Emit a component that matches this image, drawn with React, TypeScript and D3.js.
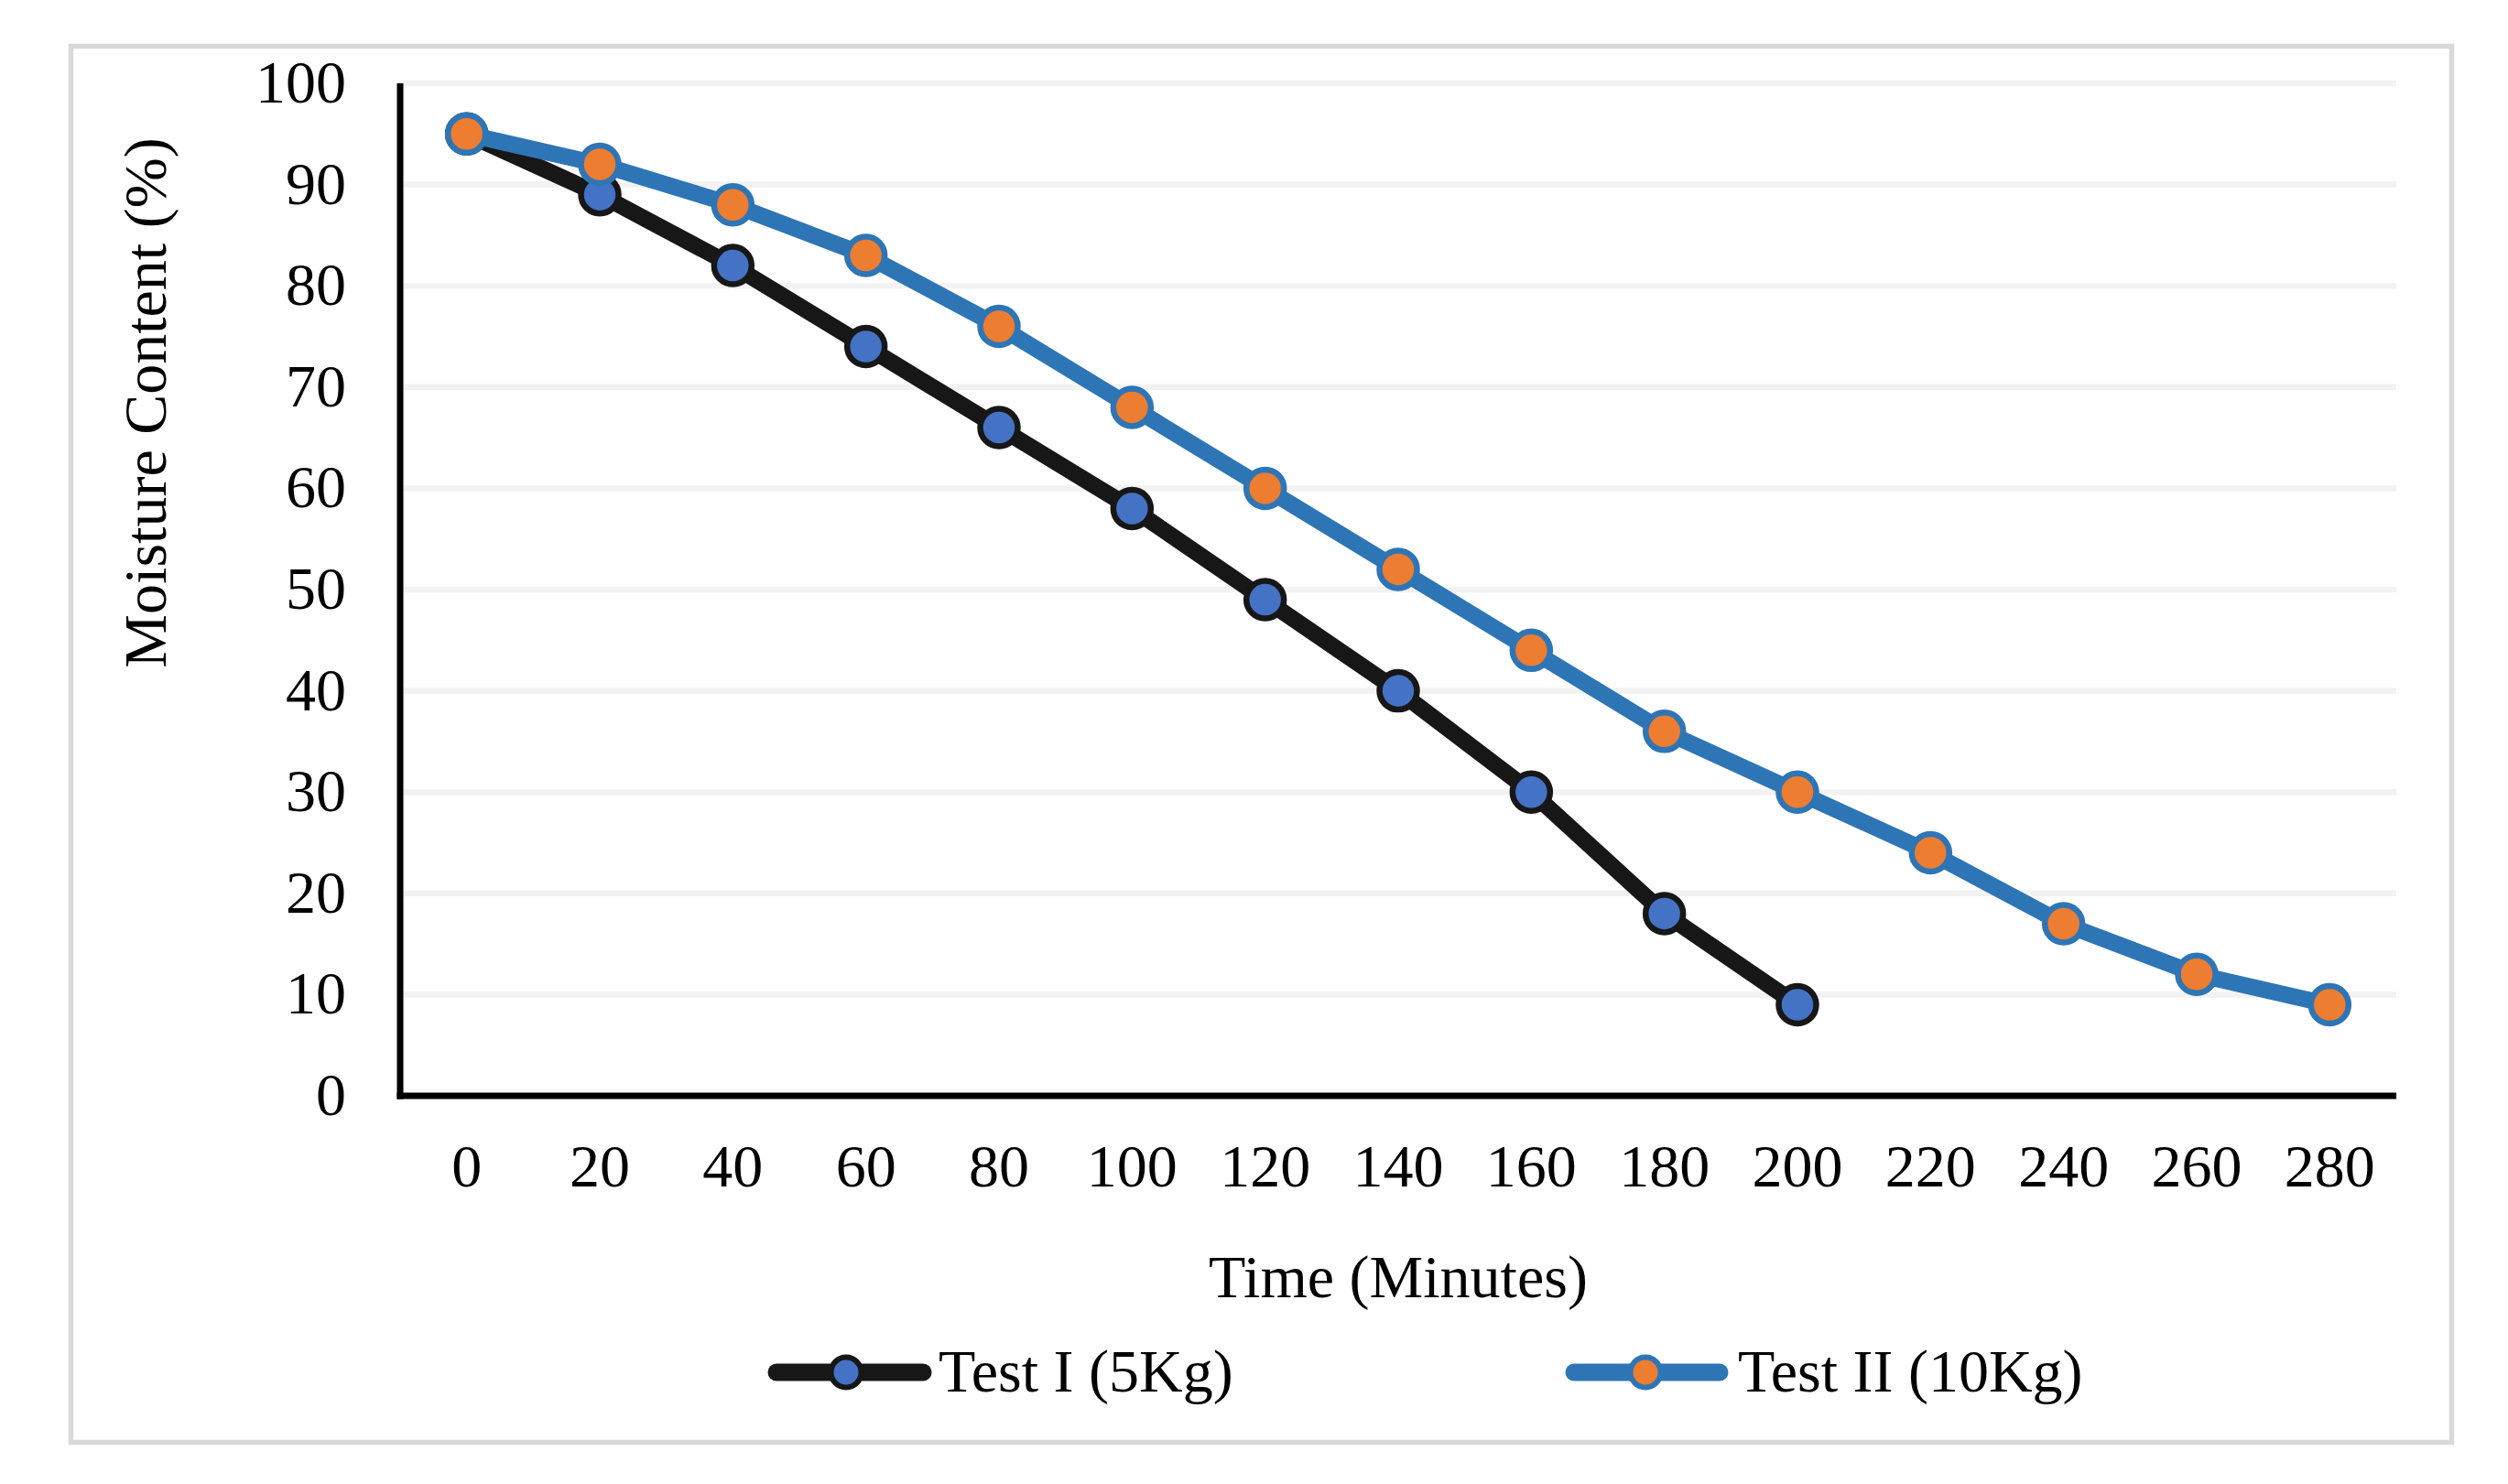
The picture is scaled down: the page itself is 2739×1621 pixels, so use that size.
import { useEffect, useRef } from 'react';
import * as d3 from 'd3';

// Data
const timeLabels = ['0', '20', '40', '60', '80', '100', '120', '140', '160', '180', '200', '220', '240', '260', '280'];
const testI = [95, 89, 82, 74, 66, 58, 49, 40, 30, 18, 9];
const testII = [95, 92, 88, 83, 76, 68, 60, 52, 44, 36, 30, 24, 17, 12, 9];
const yTicks = [0, 10, 20, 30, 40, 50, 60, 70, 80, 90, 100];

const seriesNames = ['Test I (5Kg)', 'Test II (10Kg)'];

export default function App() {
  const svgRef = useRef<SVGSVGElement>(null);

  useEffect(() => {
    if (!svgRef.current) return;
    const root = d3.select(svgRef.current);
    root.selectAll('*').remove();

    const W = 2739;
    const H = 1621;
    const font = '"Liberation Serif", "Times New Roman", serif';
    const fs = 66;

    const plot = { left: 437, right: 2617, top: 91, bottom: 1197 };

    root.attr('width', W).attr('height', H);

    root
      .append('rect')
      .attr('x', 0)
      .attr('y', 0)
      .attr('width', W)
      .attr('height', H)
      .attr('fill', '#fff');

    // outer frame
    root
      .append('rect')
      .attr('x', 77.5)
      .attr('y', 50.5)
      .attr('width', 2600)
      .attr('height', 1525)
      .attr('fill', 'none')
      .attr('stroke', '#d9d9d9')
      .attr('stroke-width', 5.5);

    const x = d3
      .scaleBand<string>()
      .domain(timeLabels)
      .range([plot.left, plot.right]);
    const cx = (i: number) => (x(timeLabels[i]) as number) + x.bandwidth() / 2;

    const y = d3.scaleLinear().domain([0, 100]).range([plot.bottom, plot.top]);

    // gridlines
    root
      .append('g')
      .selectAll('line')
      .data(yTicks.filter((t) => t > 0))
      .enter()
      .append('line')
      .attr('x1', plot.left)
      .attr('x2', plot.right)
      .attr('y1', (d) => y(d))
      .attr('y2', (d) => y(d))
      .attr('stroke', '#f2f2f2')
      .attr('stroke-width', 6.5);

    // y tick labels
    root
      .append('g')
      .selectAll('text')
      .data(yTicks)
      .enter()
      .append('text')
      .attr('x', 378)
      .attr('y', (d) => y(d) + 21)
      .attr('text-anchor', 'end')
      .style('font-family', font)
      .style('font-size', `${fs}px`)
      .style('fill', '#000')
      .text((d) => String(d));

    // x tick labels
    root
      .append('g')
      .selectAll('text')
      .data(timeLabels)
      .enter()
      .append('text')
      .attr('x', (d, i) => cx(i))
      .attr('y', 1296)
      .attr('text-anchor', 'middle')
      .style('font-family', font)
      .style('font-size', `${fs}px`)
      .style('fill', '#000')
      .text((d) => d);

    // axes lines
    root
      .append('line')
      .attr('x1', plot.left)
      .attr('x2', plot.left)
      .attr('y1', plot.top)
      .attr('y2', plot.bottom + 3.5)
      .attr('stroke', '#000')
      .attr('stroke-width', 7);
    root
      .append('line')
      .attr('x1', plot.left - 3.5)
      .attr('x2', plot.right)
      .attr('y1', plot.bottom)
      .attr('y2', plot.bottom)
      .attr('stroke', '#000')
      .attr('stroke-width', 7);

    // axis titles
    root
      .append('text')
      .attr('transform', `translate(181, 440) rotate(-90)`)
      .attr('text-anchor', 'middle')
      .style('font-family', font)
      .style('font-size', `${fs}px`)
      .style('fill', '#000')
      .text('Moisture Content (%)');

    root
      .append('text')
      .attr('x', (plot.left + plot.right) / 2)
      .attr('y', 1417)
      .attr('text-anchor', 'middle')
      .style('font-family', font)
      .style('font-size', `${fs}px`)
      .style('fill', '#000')
      .text('Time (Minutes)');

    const series = [
      { name: seriesNames[0], values: testI, line: '#171717', fill: '#4472c4' },
      { name: seriesNames[1], values: testII, line: '#2e75b6', fill: '#ed7d31' },
    ];

    const line = d3
      .line<number>()
      .x((d, i) => cx(i))
      .y((d) => y(d));

    series.forEach((s) => {
      const g = root.append('g');
      g.append('path')
        .datum(s.values)
        .attr('fill', 'none')
        .attr('stroke', s.line)
        .attr('stroke-width', 18)
        .attr('stroke-linejoin', 'round')
        .attr('stroke-linecap', 'round')
        .attr('d', line);

      g.selectAll('circle')
        .data(s.values)
        .enter()
        .append('circle')
        .attr('cx', (d, i) => cx(i))
        .attr('cy', (d) => y(d))
        .attr('r', 20.5)
        .attr('fill', s.fill)
        .attr('stroke', s.line)
        .attr('stroke-width', 6.5);
    });

    // legend
    const legendItems = [
      { x0: 848, x1: 1008, mx: 924, tx: 1025 },
      { x0: 1719, x1: 1878, mx: 1797, tx: 1898 },
    ];
    const legendY = 1499;
    series.forEach((s, i) => {
      const li = legendItems[i];
      const g = root.append('g');
      g.append('line')
        .attr('x1', li.x0)
        .attr('x2', li.x1)
        .attr('y1', legendY)
        .attr('y2', legendY)
        .attr('stroke', s.line)
        .attr('stroke-width', 19)
        .attr('stroke-linecap', 'round');
      g.append('circle')
        .attr('cx', li.mx)
        .attr('cy', legendY)
        .attr('r', 16.5)
        .attr('fill', s.fill)
        .attr('stroke', s.line)
        .attr('stroke-width', 6);
      g.append('text')
        .attr('x', li.tx)
        .attr('y', 1520)
        .style('font-family', font)
        .style('font-size', `${fs}px`)
        .style('fill', '#000')
        .text(s.name);
    });
  }, []);

  return (
    <div style={{ position: 'absolute', left: 0, top: 0 }}>
      <svg ref={svgRef} style={{ display: 'block' }} />
    </div>
  );
}
